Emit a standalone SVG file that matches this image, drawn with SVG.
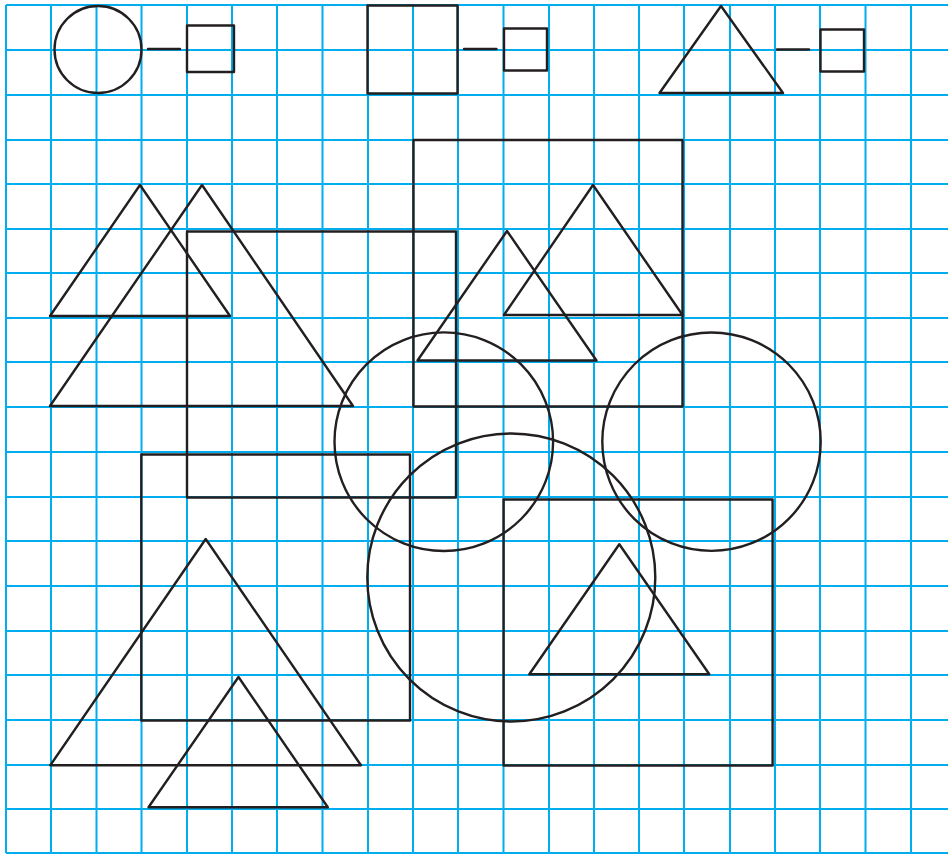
<svg xmlns="http://www.w3.org/2000/svg" width="948" height="854" viewBox="0 0 948 854">
<style>
.g{stroke:#00AEEF;stroke-width:2;fill:none}
.s{stroke:#231F20;stroke-width:2.4;fill:none;stroke-linejoin:round;stroke-linecap:round}
</style>
<rect width="948" height="854" fill="#fff"/>
<g id="grid" class="g">
<path d="M6 5V853M51 5V853M96.5 5V853M141.5 5V853M187 5V853M232 5V853M277 5V853M322.5 5V853M368 5V853M413 5V853M458 5V853M503.5 5V853M549 5V853M594 5V853M639 5V853M684 5V853M730 5V853M775 5V853M820 5V853M865.5 5V853M911 5V853"/>
<path d="M6 5H948M6 50H948M6 95H948M6 140H948M6 184H948M6 229H948M6 273H948M6 318H948M6 362H948M6 407H948M6 452H948M6 497H948M6 541H948M6 586H948M6 631H948M6 675H948M6 720H948M6 765H948M6 809H948M6 853H948"/>
</g>
<g id="legend-circle"><circle class="s" cx="98" cy="49.5" r="43.5"/></g>
<g id="legend-circle-box"><rect class="s" x="187" y="25.5" width="47" height="46.5"/></g>
<g id="legend-square"><rect class="s" x="367.5" y="5.5" width="90" height="88"/></g>
<g id="legend-square-box"><rect class="s" x="504" y="28.5" width="43" height="42"/></g>
<g id="legend-triangle"><polygon class="s" points="721,6 783,93 659.5,93"/></g>
<g id="legend-triangle-box"><rect class="s" x="820.5" y="29.5" width="43.5" height="42"/></g>
<g id="connectors" class="s">
<line x1="148" y1="49" x2="180" y2="49"/>
<line x1="464" y1="49" x2="496.5" y2="49"/>
<line x1="777" y1="49.5" x2="809" y2="49.5"/>
</g>
<g id="triangle-1"><polygon class="s" points="140,185 230,316 50,316"/></g>
<g id="triangle-2"><polygon class="s" points="202,185 353,406 50,406"/></g>
<g id="square-1"><rect class="s" x="187" y="231.5" width="269" height="266"/></g>
<g id="square-2"><rect class="s" x="413.5" y="140" width="269" height="266.5"/></g>
<g id="triangle-3"><polygon class="s" points="593,185 682.5,315 504,315"/></g>
<g id="triangle-4"><polygon class="s" points="507,231 596.5,360.5 417.5,360.5"/></g>
<g id="circle-1"><circle class="s" cx="443.8" cy="441.7" r="109.3"/></g>
<g id="circle-2"><circle class="s" cx="711.5" cy="441.7" r="109.2"/></g>
<g id="circle-3"><circle class="s" cx="511.3" cy="577.5" r="144"/></g>
<g id="square-3"><rect class="s" x="141.3" y="454.5" width="268.7" height="266"/></g>
<g id="square-4"><rect class="s" x="503.6" y="499.5" width="269" height="266"/></g>
<g id="triangle-5"><polygon class="s" points="205.7,539 361,765.3 50.3,765.3"/></g>
<g id="triangle-6"><polygon class="s" points="238.5,677 327.8,807.3 148.5,807.3"/></g>
<g id="triangle-7"><polygon class="s" points="619.3,544.3 709.3,674.3 529.3,674.3"/></g>
</svg>
